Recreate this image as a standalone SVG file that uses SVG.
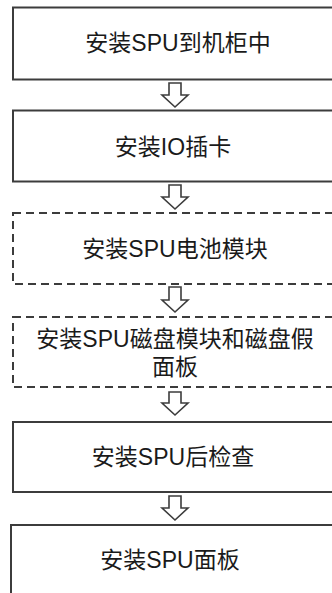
<svg xmlns="http://www.w3.org/2000/svg" width="332" height="593" viewBox="0 0 332 593">
<style>
.box{fill:#fff;stroke:#3c3c3c;stroke-width:2}
.dash{fill:#fff;stroke:#3c3c3c;stroke-width:2;stroke-dasharray:8 5}
.arr{fill:#fff;stroke:#3c3c3c;stroke-width:1.6;stroke-linejoin:miter}
text{font-family:"Liberation Sans","Noto Sans CJK SC",sans-serif;font-size:23px;fill:#1a1a1a;text-anchor:middle;dominant-baseline:central}
</style>
<rect width="332" height="593" fill="#fff"/>
<g id="connectors">
<polygon class="arr" points="169,83 181,83 181,95 188,95 175,107 162,95 169,95"/>
<polygon class="arr" points="169,185 181,185 181,197 188,197 175,209 162,197 169,197"/>
<polygon class="arr" points="169,287 181,287 181,300 188,300 175,312 162,300 169,300"/>
<polygon class="arr" points="169,392 181,392 181,403 188,403 175,415 162,403 169,403"/>
<polygon class="arr" points="169,496 181,496 181,508 188,508 175,520 162,508 169,508"/>
</g>
<g id="n1"><rect class="box" x="13" y="7.5" width="340" height="72"/><text x="178" y="43">安装SPU到机柜中</text></g>
<g id="n2"><rect class="box" x="13" y="110.5" width="340" height="71"/><text x="173" y="147">安装IO插卡</text></g>
<g id="n3"><rect class="dash" x="13" y="213" width="340" height="71"/><text x="175" y="249">安装SPU电池模块</text></g>
<g id="n4"><rect class="dash" x="13" y="317" width="340" height="70"/><text x="175" y="339">安装SPU磁盘模块和磁盘假</text><text x="175" y="367">面板</text></g>
<g id="n5"><rect class="box" x="13" y="422" width="340" height="70"/><text x="173" y="457">安装SPU后检查</text></g>
<g id="n6"><rect class="box" x="11" y="525" width="340" height="100"/><text x="170" y="560">安装SPU面板</text></g>
</svg>
